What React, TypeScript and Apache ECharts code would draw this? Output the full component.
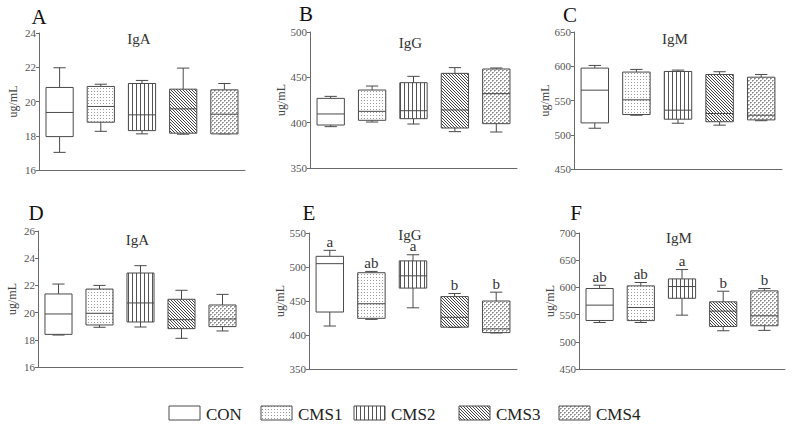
import React, { useEffect, useRef } from 'react';
import * as echarts from 'echarts';

const categories = ['CON', 'CMS1', 'CMS2', 'CMS3', 'CMS4'];
// each row: [min, Q1, median, Q3, max]
const igA1 = [
  [17.03, 17.95, 19.36, 20.82, 21.97],
  [18.26, 18.79, 19.71, 20.88, 21.01],
  [18.11, 18.3, 19.22, 21.05, 21.23],
  [18.09, 18.15, 19.57, 20.72, 21.95],
  [18.11, 18.11, 19.26, 20.68, 21.05],
];
const igG1 = [
  [395.6, 397.4, 409.6, 426.8, 429.0],
  [400.7, 402.6, 412.5, 436.0, 440.4],
  [398.5, 404.4, 413.2, 444.1, 451.1],
  [390.1, 394.1, 414.0, 454.4, 460.7],
  [389.7, 398.9, 432.0, 459.2, 460.3],
];
const igM1 = [
  [509.5, 517.3, 565.1, 597.3, 601.2],
  [528.5, 529.5, 551.0, 591.5, 595.4],
  [516.8, 522.7, 535.9, 592.4, 594.4],
  [514.0, 519.0, 531.0, 588.0, 592.0],
  [520.5, 521.7, 528.5, 584.0, 588.0],
];
const igA2 = [
  [18.35, 18.4, 19.9, 21.37, 22.1],
  [18.92, 19.09, 19.95, 21.73, 22.0],
  [18.94, 19.31, 20.71, 22.91, 23.45],
  [18.11, 18.82, 19.48, 20.98, 21.64],
  [18.65, 18.97, 19.53, 20.56, 21.34],
];
const igG2 = [
  [413.2, 433.8, 504.9, 515.7, 524.5],
  [423.0, 424.5, 446.0, 491.6, 493.5],
  [440.0, 469.0, 487.0, 509.0, 518.0],
  [411.0, 411.5, 426.0, 456.5, 461.0],
  [403.0, 403.5, 409.0, 450.0, 463.0],
];
const igM2 = [
  [535.5, 539.2, 567.4, 598.0, 604.0],
  [535.5, 539.0, 563.0, 602.8, 609.0],
  [549.0, 580.0, 601.6, 615.6, 632.8],
  [520.3, 528.2, 556.4, 573.5, 593.0],
  [521.0, 529.5, 547.8, 593.6, 598.0],
];
const lettersE = ['a', 'ab', 'a', 'b', 'b'];
const lettersF = ['ab', 'ab', 'a', 'b', 'b'];
const ticksA1 = { min: 16, max: 24, interval: 2 };
const ticksG1 = { min: 350, max: 500, interval: 50 };
const ticksM1 = { min: 450, max: 650, interval: 50 };
const ticksA2 = { min: 16, max: 26, interval: 2 };
const ticksG2 = { min: 350, max: 550, interval: 50 };
const ticksM2 = { min: 450, max: 700, interval: 50 };

const SERIF = '"Liberation Serif", "Times New Roman", serif';

function makePattern(w: number, h: number, pixels: [number, number, string][]) {
  const c = document.createElement('canvas');
  c.width = w;
  c.height = h;
  const ctx = c.getContext('2d')!;
  ctx.fillStyle = '#ffffff';
  ctx.fillRect(0, 0, w, h);
  pixels.forEach(([x, y, col]) => {
    ctx.fillStyle = col;
    ctx.fillRect(x, y, 1, 1);
  });
  return { image: c, repeat: 'repeat', imageWidth: w, imageHeight: h } as any;
}

export default function App() {
  const ref = useRef<HTMLDivElement>(null);
  useEffect(() => {
    document.body.style.margin = '0';
    if (!ref.current) return;
    const chart = echarts.init(ref.current, undefined, { renderer: 'svg' });

    const patterns: any[] = [
      '#ffffff',
      makePattern(3, 3, [[1, 1, '#9a9a9a']]),
      makePattern(4, 1, [[0, 0, '#555555']]),
      makePattern(3, 3, [
        [0, 0, '#444444'],
        [1, 1, '#444444'],
        [2, 2, '#444444'],
      ]),
      makePattern(4, 4, [
        [0, 0, '#8a8a8a'],
        [1, 0, '#a8a8a8'],
        [0, 1, '#b8b8b8'],
        [2, 2, '#8a8a8a'],
        [3, 2, '#a8a8a8'],
        [2, 3, '#b8b8b8'],
      ]),
    ];

    const panels = [
      { data: igA1, ticks: ticksA1, title: 'IgA', letter: 'A', grid: { left: 39, top: 33, width: 206, height: 137 }, letters: null as any, titleY: 39, letterPos: [39, 17] },
      { data: igG1, ticks: ticksG1, title: 'IgG', letter: 'B', grid: { left: 310, top: 32, width: 207, height: 136 }, letters: null, titleY: 43, letterPos: [306, 14] },
      { data: igM1, ticks: ticksM1, title: 'IgM', letter: 'C', grid: { left: 574, top: 32, width: 208, height: 137 }, letters: null, titleY: 39, letterPos: [570, 15] },
      { data: igA2, ticks: ticksA2, title: 'IgA', letter: 'D', grid: { left: 38, top: 231, width: 205, height: 136 }, letters: null, titleY: 240, letterPos: [36, 213] },
      { data: igG2, ticks: ticksG2, title: 'IgG', letter: 'E', grid: { left: 309, top: 233, width: 208, height: 136 }, letters: lettersE, titleY: 235, letterPos: [309, 213] },
      { data: igM2, ticks: ticksM2, title: 'IgM', letter: 'F', grid: { left: 579, top: 233, width: 206, height: 136 }, letters: lettersF, titleY: 238, letterPos: [576, 213] },
    ];

    const axisColor = '#6a6a6a';
    const grids = panels.map((p) => p.grid);
    const xAxes = panels.map((p, i) => ({
      type: 'category',
      gridIndex: i,
      data: categories,
      boundaryGap: true,
      axisLine: { show: true, lineStyle: { color: axisColor, width: 1 } },
      axisTick: { show: false },
      axisLabel: { show: false },
    }));
    const yAxes = panels.map((p, i) => ({
      type: 'value',
      gridIndex: i,
      min: p.ticks.min,
      max: p.ticks.max,
      interval: p.ticks.interval,
      name: 'ug/mL',
      nameLocation: 'middle',
      nameGap: 20,
      nameTextStyle: { fontFamily: SERIF, fontSize: 12, color: '#444' },
      axisLine: { show: true, lineStyle: { color: axisColor, width: 1 } },
      axisTick: { show: true, length: 3, lineStyle: { color: axisColor } },
      axisLabel: { fontFamily: SERIF, fontSize: 11, color: '#555', margin: 3 },
      splitLine: { show: false },
    }));

    const series = panels.map((p, pi) => ({
      type: 'custom',
      xAxisIndex: pi,
      yAxisIndex: pi,
      clip: false,
      encode: { x: 0, y: [1, 2, 3, 4, 5] },
      data: p.data.map((d, i) => [i, ...d]),
      renderItem: (params: any, api: any) => {
        const i = api.value(0);
        const lo = api.coord([i, api.value(1)]);
        const q1 = api.coord([i, api.value(2)]);
        const md = api.coord([i, api.value(3)]);
        const q3 = api.coord([i, api.value(4)]);
        const hi = api.coord([i, api.value(5)]);
        const band = api.size([1, 0])[0];
        const bw = band * 0.66;
        const cw = bw * 0.45;
        const cx = lo[0];
        const st = { stroke: '#4a4a4a', lineWidth: 1, fill: null };
        const children: any[] = [
          { type: 'line', shape: { x1: cx, y1: q3[1], x2: cx, y2: hi[1] }, style: st },
          { type: 'line', shape: { x1: cx - cw / 2, y1: hi[1], x2: cx + cw / 2, y2: hi[1] }, style: st },
          { type: 'line', shape: { x1: cx, y1: q1[1], x2: cx, y2: lo[1] }, style: st },
          { type: 'line', shape: { x1: cx - cw / 2, y1: lo[1], x2: cx + cw / 2, y2: lo[1] }, style: st },
          {
            type: 'rect',
            shape: { x: cx - bw / 2, y: q3[1], width: bw, height: q1[1] - q3[1] },
            style: { fill: patterns[i], stroke: '#4a4a4a', lineWidth: 1 },
          },
          { type: 'line', shape: { x1: cx - bw / 2, y1: md[1], x2: cx + bw / 2, y2: md[1] }, style: st },
        ];
        if (p.letters) {
          children.push({
            type: 'text',
            style: {
              text: p.letters[i],
              x: cx,
              y: hi[1] - 1,
              align: 'center',
              verticalAlign: 'bottom',
              font: `15px ${SERIF}`,
              fill: '#333',
            },
          });
        }
        return { type: 'group', children };
      },
    }));

    const graphics: any[] = [];
    panels.forEach((p) => {
      graphics.push({
        type: 'text',
        x: p.grid.left + p.grid.width / 2 - 3,
        y: p.titleY,
        style: { text: p.title, font: `15px ${SERIF}`, fill: '#333', align: 'center', verticalAlign: 'middle' },
      });
      graphics.push({
        type: 'text',
        x: p.letterPos[0],
        y: p.letterPos[1],
        style: { text: p.letter, font: `21px ${SERIF}`, fill: '#111', align: 'center', verticalAlign: 'middle' },
      });
    });
    const legendX = [169, 261, 354, 459, 559];
    categories.forEach((c, i) => {
      graphics.push({
        type: 'rect',
        shape: { x: legendX[i], y: 406, width: 31, height: 14 },
        style: { fill: patterns[i], stroke: '#4a4a4a', lineWidth: 1 },
      });
      graphics.push({
        type: 'text',
        x: legendX[i] + 37,
        y: 414,
        style: { text: c, font: `17px ${SERIF}`, fill: '#222', align: 'left', verticalAlign: 'middle' },
      });
    });

    chart.setOption({
      animation: false,
      backgroundColor: '#ffffff',
      grid: grids,
      xAxis: xAxes,
      yAxis: yAxes,
      series,
      graphic: graphics,
    } as any);
    return () => chart.dispose();
  }, []);
  return <div ref={ref} style={{ width: 795, height: 430 }} />;
}
